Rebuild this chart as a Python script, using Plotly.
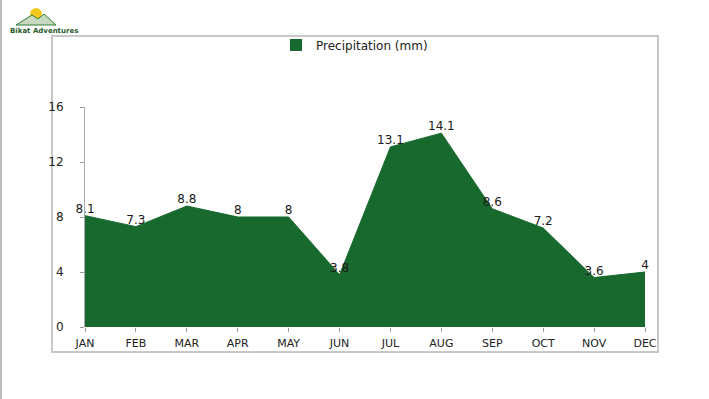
import plotly.graph_objects as go

months = ["JAN", "FEB", "MAR", "APR", "MAY", "JUN", "JUL", "AUG", "SEP", "OCT", "NOV", "DEC"]
precip = [8.1, 7.3, 8.8, 8, 8, 3.8, 13.1, 14.1, 8.6, 7.2, 3.6, 4]
labels = ["8.1", "7.3", "8.8", "8", "8", "3.8", "13.1", "14.1", "8.6", "7.2", "3.6", "4"]
yticks = [0, 4, 8, 12, 16]

GREEN = "#17692d"
FONT = "DejaVu Sans"

W, H = 709, 399
L, R, T, B = 85, 64, 107, 72
PW, PH = W - L - R, H - T - B


def px(x):
    return (x - L) / PW


def py(y):
    return (H - B - y) / PH


fig = go.Figure()
fig.add_trace(go.Scatter(
    x=months, y=precip, mode="lines+text", fill="tozeroy",
    fillcolor=GREEN, line=dict(color=GREEN, width=1),
    text=labels, textposition="top center", cliponaxis=False,
    textfont=dict(family=FONT, size=12, color="#1a1a1a"),
    name="Precipitation (mm)", showlegend=False, hoverinfo="skip",
))
fig.add_trace(go.Scatter(
    x=[None], y=[None], mode="markers",
    marker=dict(symbol="square", size=12, color=GREEN),
    name="Precipitation (mm)", showlegend=True,
))

shapes = [
    dict(type="rect", xref="paper", yref="paper", x0=px(52), x1=px(658), y0=py(352), y1=py(36),
         line=dict(color="#c8c8c8", width=2), fillcolor="rgba(0,0,0,0)", layer="below"),
    dict(type="line", xref="paper", yref="paper", x0=px(1), x1=px(1), y0=py(399), y1=py(0),
         line=dict(color="#bdbdbd", width=2)),
    dict(type="circle", xref="paper", yref="paper", x0=px(30), x1=px(42), y0=py(20), y1=py(8),
         fillcolor="#f2c81e", line=dict(width=0)),
    dict(type="path", xref="paper", yref="paper",
         path=f"M {px(16)},{py(25)} L {px(32)},{py(15)} L {px(38)},{py(19)} L {px(44)},{py(14)} L {px(56)},{py(25)} Z",
         fillcolor="#c9d9c0", line=dict(color="#2e7d3a", width=1)),
]

fig.update_layout(
    width=W, height=H,
    margin=dict(l=L, r=R, t=T, b=B),
    paper_bgcolor="white", plot_bgcolor="white",
    font=dict(family=FONT, size=11, color="#222222"),
    showlegend=True,
    legend=dict(x=px(276), y=py(45), xanchor="left", yanchor="middle",
                orientation="h", font=dict(family=FONT, size=12, color="#222222"),
                itemwidth=30, bgcolor="rgba(0,0,0,0)"),
    xaxis=dict(range=[0, 11], showgrid=False, zeroline=False, showline=False,
               ticks="outside", ticklen=4, tickcolor="#999999", ticklabelstandoff=2,
               tickfont=dict(family=FONT, size=11, color="#222222"), fixedrange=True),
    yaxis=dict(range=[0, 16], tickvals=yticks, showgrid=False, zeroline=False,
               showline=True, linecolor="#aaaaaa", linewidth=1,
               ticks="outside", ticklen=4, tickcolor="#999999", ticklabelstandoff=14,
               tickfont=dict(family=FONT, size=12, color="#222222"), fixedrange=True),
    shapes=shapes,
    annotations=[dict(text="<b>Bikat Adventures</b>", xref="paper", yref="paper",
                      x=px(8), y=py(31), xanchor="left", yanchor="middle", showarrow=False,
                      font=dict(family=FONT, size=7, color="#1f5a2a"))],
)

fig.write_html("out.html", config={"displayModeBar": False},
               post_script="document.body.style.margin='0';document.body.style.overflow='hidden';")
